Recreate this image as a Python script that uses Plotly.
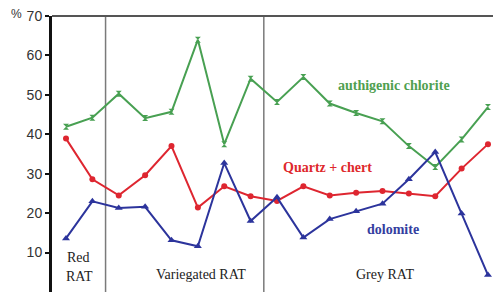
import plotly.graph_objects as go

# sample positions (stratigraphic order)
samples = list(range(17))

chlorite = [41.9, 44.2, 50.3, 44.1, 45.7, 64.0, 37.5, 54.1, 48.2, 54.5, 47.8, 45.4, 43.3, 37.0, 31.7, 38.7, 46.9]
quartz = [38.9, 28.6, 24.5, 29.6, 37.0, 21.4, 26.8, 24.3, 23.1, 26.8, 24.5, 25.2, 25.6, 25.0, 24.3, 31.3, 37.5]
dolomite = [13.6, 23.0, 21.3, 21.6, 13.1, 11.6, 32.7, 18.0, 24.0, 13.8, 18.5, 20.5, 22.4, 28.6, 35.5, 19.9, 4.3]

boundaries = [1.5, 7.5]
y_ticks = [10, 20, 30, 40, 50, 60, 70]

green = "rgb(72,160,82)"
red = "rgb(222,38,48)"
blue = "rgb(44,52,156)"

fig = go.Figure()
fig.add_trace(go.Scatter(x=samples, y=chlorite, mode="lines+markers",
                         line=dict(color=green, width=2),
                         marker=dict(symbol="hourglass", size=6, color=green)))
fig.add_trace(go.Scatter(x=samples, y=quartz, mode="lines+markers",
                         line=dict(color=red, width=2),
                         marker=dict(symbol="circle", size=6, color=red)))
fig.add_trace(go.Scatter(x=samples, y=dolomite, mode="lines+markers",
                         line=dict(color=blue, width=2),
                         marker=dict(symbol="triangle-up", size=7, color=blue)))

for b in boundaries:
    fig.add_shape(type="line", xref="x", yref="paper", x0=b, x1=b, y0=0, y1=1,
                  line=dict(color="#7a7a7a", width=1.5), layer="below")

# top border
fig.add_shape(type="line", xref="paper", yref="paper", x0=0, x1=1, y0=1, y1=1,
              line=dict(color="#555", width=2))

serif = "Liberation Serif"
ann = [
    dict(x=12.44, y=52.4, text="<b>authigenic chlorite</b>", color="rgb(80,160,80)"),
    dict(x=9.93, y=31.7, text="<b>Quartz + chert</b>", color="rgb(222,40,44)"),
    dict(x=12.4, y=15.9, text="<b>dolomite</b>", color="rgb(52,62,160)"),
    dict(x=0.49, y=8.8, text="Red", color="#222"),
    dict(x=0.5, y=4.0, text="RAT", color="#222"),
    dict(x=5.12, y=4.5, text="Variegated RAT", color="#222"),
    dict(x=12.08, y=4.4, text="Grey RAT", color="#222"),
]
for a in ann:
    fig.add_annotation(x=a["x"], y=a["y"], xref="x", yref="y", text=a["text"],
                       showarrow=False, font=dict(family=serif, size=14, color=a["color"]))

fig.add_annotation(x=0, y=1, xref="paper", yref="paper", text="%", showarrow=False,
                   xanchor="right", yanchor="middle", xshift=-28, yshift=2,
                   font=dict(family="Liberation Sans", size=12, color="#333"))

fig.update_xaxes(range=[-0.531, 16.19], showgrid=False, zeroline=False,
                 showticklabels=False, ticks="", showline=False, automargin=False)
fig.update_yaxes(range=[0, 70], tickvals=y_ticks, showgrid=False, zeroline=False,
                 showline=True, linecolor="#111", linewidth=3, automargin=False,
                 ticks="outside", ticklen=4, tickwidth=2, tickcolor="#111",
                 tickfont=dict(family="Liberation Sans", size=14, color="#333"))

fig.update_layout(width=493, height=293, margin=dict(l=52, r=0, t=16, b=1),
                  paper_bgcolor="white", plot_bgcolor="white", showlegend=False)

fig.write_html("out.html", config={"displayModeBar": False},
               post_script="document.body.style.margin='0';document.body.style.overflow='hidden';")
